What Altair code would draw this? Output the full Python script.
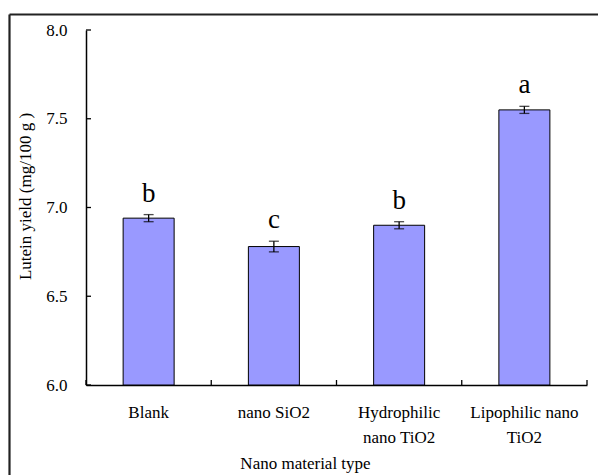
import altair as alt
import pandas as pd

categories = ["Blank", "nano SiO2", "Hydrophilic\nnano TiO2", "Lipophilic nano\nTiO2"]
means = [6.94, 6.78, 6.90, 7.55]
errors = [0.02, 0.03, 0.02, 0.02]
letters = ["b", "c", "b", "a"]
y_ticks = [6.0, 6.5, 7.0, 7.5, 8.0]

df = pd.DataFrame({
    "cat": categories,
    "mean": means,
    "lo": [m - e for m, e in zip(means, errors)],
    "hi": [m + e for m, e in zip(means, errors)],
    "letter": letters,
})
ticks_df = pd.DataFrame({"v": y_ticks})

W, H = 501, 355
FONT = "Liberation Serif, Times New Roman, Times, serif"

xscale = alt.Scale(domain=categories, paddingInner=0, paddingOuter=0)
yscale = alt.Scale(domain=[6, 8], nice=False, zero=False)

xaxis = alt.Axis(
    title="Nano material type", labelAngle=0,
    labelLineHeight=25, labelBaseline="top",
    labelExpr="split(datum.label, '\\n')",
    titleX=219, titleY=83, titleAlign="center", titleBaseline="alphabetic",
)
yaxis = alt.Axis(
    title="Lutein yield  (mg/100 g )", values=y_ticks, format=".1f",
    titleX=-61, titleY=166, titleAngle=270, titleAlign="center", titleBaseline="middle",
)

base = alt.Chart(df)
X = alt.X("cat:N", scale=xscale, sort=categories, axis=xaxis)

bars = base.mark_bar(size=51, color="#9999FF", stroke="black", strokeWidth=1).encode(
    x=X,
    y=alt.Y("mean:Q", scale=yscale, axis=yaxis),
    y2=alt.datum(6),
)
err = base.mark_rule(color="black", strokeWidth=1.3).encode(x=X, y="lo:Q", y2="hi:Q")
cap_hi = base.mark_tick(color="black", size=10, thickness=1.3, orient="horizontal").encode(
    x=X, y="hi:Q")
cap_lo = base.mark_tick(color="black", size=10, thickness=1.3, orient="horizontal").encode(
    x=X, y="lo:Q")
txt = base.mark_text(font=FONT, fontSize=27, baseline="alphabetic", dy=-13, color="black").encode(
    x=X, y="hi:Q", text="letter:N")

xt = base.mark_rule(color="black", strokeWidth=1.3).encode(
    x=alt.X("cat:N", scale=xscale, sort=categories, axis=xaxis, bandPosition=0),
    y=alt.value(H), y2=alt.value(H - 5))
xt_end = alt.Chart(ticks_df.head(1)).mark_rule(color="black", strokeWidth=1.3).encode(
    x=alt.value(W), y=alt.value(H), y2=alt.value(H - 5))
yt = alt.Chart(ticks_df).mark_rule(color="black", strokeWidth=1.3).encode(
    y=alt.Y("v:Q", scale=yscale, axis=yaxis), x=alt.value(0), x2=alt.value(5))

border_left = alt.Chart(ticks_df.head(1)).mark_rule(color="#222222", strokeWidth=2.2).encode(
    x=alt.value(9.5 - 86), y=alt.value(14.5 - 30), y2=alt.value(500))
border_top = alt.Chart(ticks_df.head(1)).mark_rule(color="#222222", strokeWidth=2.2).encode(
    y=alt.value(14.5 - 30), x=alt.value(9.5 - 86), x2=alt.value(600))

chart = alt.layer(bars, err, cap_hi, cap_lo, txt, xt, xt_end, yt, border_left, border_top).properties(
    width=W, height=H,
    autosize=alt.AutoSizeParams(type="none"),
    padding={"left": 86, "top": 30, "right": 11, "bottom": 90},
    background="white",
).configure_view(stroke=None).configure_axis(
    ticks=False, tickSize=0, labelPadding=19, grid=False,
    labelFont=FONT, labelFontSize=17, labelColor="black",
    domainColor="black", domainWidth=1.5,
    titleFont=FONT, titleFontSize=17, titleFontWeight="normal", titleColor="black",
).configure_text(font=FONT)

chart.save("out.html", embed_options={"renderer": "svg", "actions": False})
